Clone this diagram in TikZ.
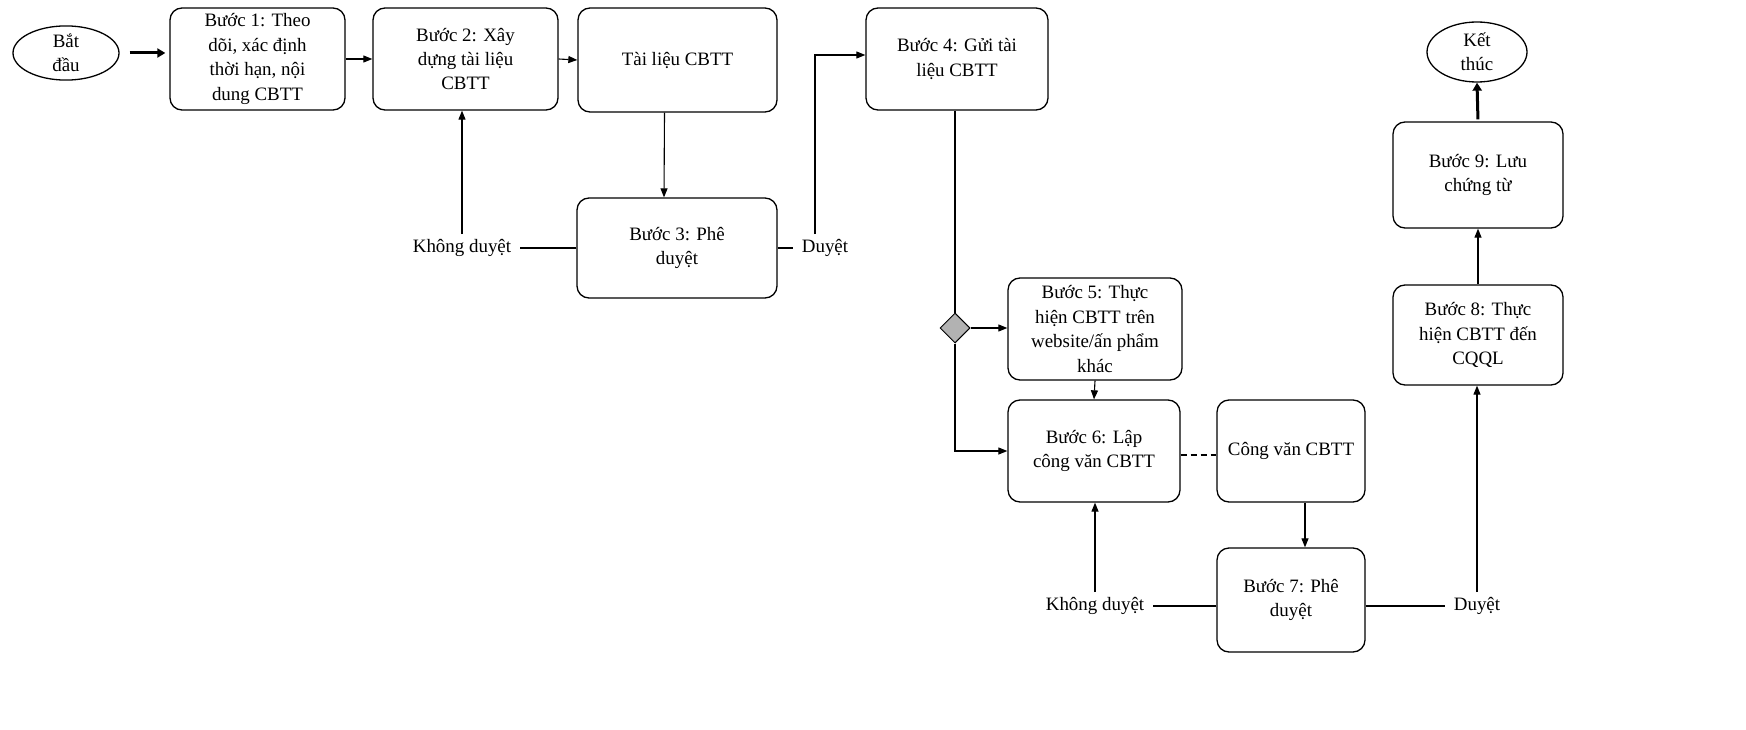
\documentclass[tikz,border=0pt]{standalone}
\usepackage{fontspec}
\setmainfont{Liberation Serif}
\usetikzlibrary{shapes.geometric,arrows.meta}
\begin{document}
\begin{tikzpicture}[x=1bp,y=-1bp,
  txt/.style={font=\fontsize{19}{24.5}\selectfont, align=center},
  box/.style={txt, draw, rounded corners=12bp, line width=1.3bp, inner sep=0pt},
  term/.style={txt, draw, ellipse, line width=1.3bp, inner sep=0pt},
  lbl/.style={txt, inner xsep=9bp, inner ysep=5bp},
  arr/.style={line width=1.1bp, -{Triangle[length=9bp,width=7bp]}},
  thickarr/.style={line width=3bp, -{Triangle[length=8bp,width=9bp]}},
  ln/.style={line width=1.1bp},
]
\useasboundingbox (0,0) rectangle (1746,730);

\node[term, minimum width=106bp, minimum height=44bp] (start) at (66,53) {Bắt\\đầu};
\node[box, minimum width=175bp, minimum height=102bp] (b1) at (257.5,59) {Bước 1: Theo\\dõi, xác định\\thời hạn, nội\\dung CBTT};
\node[box, minimum width=185bp, minimum height=102bp] (b2) at (465.5,59) {Bước 2: Xây\\dựng tài liệu\\CBTT};
\node[box, minimum width=199bp, minimum height=104bp] (tl) at (677.5,60) {Tài liệu CBTT};
\node[box, minimum width=200bp, minimum height=100bp] (b3) at (677,248) {Bước 3: Phê\\duyệt};
\node[lbl] (kd1) at (462,248) {Không duyệt};
\node[lbl] (d1) at (825,248) {Duyệt};
\node[box, minimum width=182bp, minimum height=102bp] (b4) at (957,59) {Bước 4: Gửi tài\\liệu CBTT};
\node[diamond, draw, fill=gray!60, line width=1bp, minimum size=30bp, inner sep=0pt] (dm) at (955,328) {};
\node[box, minimum width=174bp, minimum height=102bp] (b5) at (1095,329) {Bước 5: Thực\\hiện CBTT trên\\website/ấn phẩm\\khác};
\node[box, minimum width=172bp, minimum height=102bp] (b6) at (1094,451) {Bước 6: Lập\\công văn CBTT};
\node[box, minimum width=148bp, minimum height=102bp] (cv) at (1291,451) {Công văn CBTT};
\node[box, minimum width=148bp, minimum height=104bp] (b7) at (1291,600) {Bước 7: Phê\\duyệt};
\node[lbl] (kd2) at (1095,606) {Không duyệt};
\node[lbl] (d2) at (1477,606) {Duyệt};
\node[box, minimum width=170bp, minimum height=100bp] (b8) at (1478,335) {Bước 8: Thực\\hiện CBTT đến\\CQQL};
\node[box, minimum width=170bp, minimum height=106bp] (b9) at (1478,175) {Bước 9: Lưu\\chứng từ};
\node[term, minimum width=100bp, minimum height=60bp] (end) at (1477,52) {Kết\\thúc};

\draw[thickarr, shorten <=10bp, shorten >=4bp] (start.east) -- (b1.west |- start.east);
\draw[arr] (b1.west -| b1.east) -- (b2.west);
\draw[arr] (b2.east) -- (tl.west);
\draw[arr] ([xshift=-13bp]tl.south) -- ([xshift=-13bp]b3.north);
\draw[ln] (b3.west |- kd1.east) -- (kd1.east);
\draw[arr] (kd1.north) -- (kd1.north |- b2.south);
\draw[ln] (b3.east |- d1.west) -- (d1.west);
\draw[arr] ([xshift=-10bp]d1.north) |- ([yshift=4bp]b4.west);
\draw[ln] (b4.south -| dm.north) -- (dm.north);
\draw[arr] (dm.east) -- (b5.west |- dm.east);
\draw[arr] (dm.south) |- (b6.west);
\draw[arr] (b5.south) -- (b6.north);
\draw[ln, dash pattern=on 6bp off 4bp] ([yshift=-4bp]b6.east) -- ([yshift=-4bp]cv.west);
\draw[arr] ([xshift=14bp]cv.south) -- ([xshift=14bp]b7.north);
\draw[ln] (b7.west |- kd2.east) -- (kd2.east);
\draw[arr] (kd2.north) -- (kd2.north |- b6.south);
\draw[ln] (b7.east |- d2.west) -- (d2.west);
\draw[arr] (d2.north) -- (d2.north |- b8.south);
\draw[arr] (b8.north) -- (b9.south);
\draw[thickarr, shorten <=2bp] (b9.north) -- (end.south);
\end{tikzpicture}
\end{document}
